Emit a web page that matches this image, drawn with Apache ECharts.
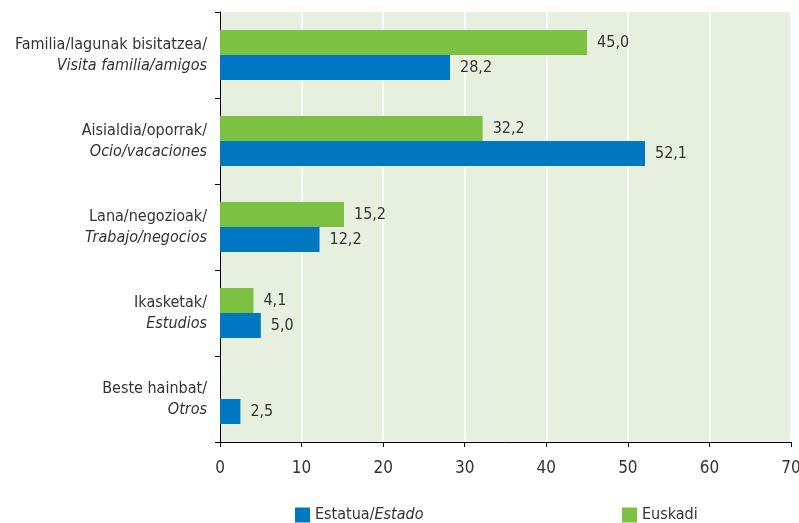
<!DOCTYPE html>
<html><head><meta charset="utf-8">
<script src="https://cdn.jsdelivr.net/npm/echarts@6/dist/echarts.min.js"></script>
<style>html,body{margin:0;padding:0;background:#fff}#c{width:799px;height:523px}</style>
</head><body><div id="c"></div>
<script>
var catEu = ['Familia/lagunak bisitatzea/', 'Aisialdia/oporrak/', 'Lana/negozioak/', 'Ikasketak/', 'Beste hainbat/'];
var catEs = ['Visita familia/amigos', 'Ocio/vacaciones', 'Trabajo/negocios', 'Estudios', 'Otros'];
var estado = [28.2, 52.1, 12.2, 5.0, 2.5];
var euskadi = [45.0, 32.2, 15.2, 4.1, null];
var xTicks = [0, 10, 20, 30, 40, 50, 60, 70];

var FONT = '"Liberation Sans Narrow","DejaVu Sans Condensed",sans-serif';
var TXT = '#333333';
var cats = catEu.map(function (e, i) { return i; });
var chart = echarts.init(document.getElementById('c'));
function fmt(p) { return p.value == null ? '' : p.value.toFixed(1).replace('.', ','); }
chart.setOption({
  animation: false,
  grid: { left: 220, right: 8, top: 12, bottom: 81, show: true, backgroundColor: '#e7f0de', borderWidth: 0,
          containLabel: false, outerBoundsMode: 'none' },
  legend: [
    { data: ['Estatua/Estado'], icon: 'rect', left: 295, top: 507, itemWidth: 15, itemHeight: 15, itemGap: 4, padding: 0,
      formatter: function () { return '{n|Estatua/}{i|Estado}'; },
      textStyle: { rich: { n: { fontFamily: FONT, fontSize: 16, color: TXT }, i: { fontFamily: FONT, fontSize: 16, fontStyle: 'italic', color: TXT } } } },
    { data: ['Euskadi'], icon: 'rect', left: 622, top: 507, itemWidth: 15, itemHeight: 15, padding: 0,
      textStyle: { fontFamily: FONT, fontSize: 16, color: TXT } }
  ],
  xAxis: {
    type: 'value', min: xTicks[0], max: xTicks[xTicks.length - 1], interval: 10,
    axisLine: { show: true, lineStyle: { color: '#000', width: 1 } },
    axisTick: { show: true, length: 5, lineStyle: { color: '#000' } },
    axisLabel: { fontFamily: FONT, fontSize: 17, color: TXT, margin: 18 },
    splitLine: { show: true, lineStyle: { color: '#ffffff', width: 1.5 } }
  },
  yAxis: {
    type: 'category', data: cats, inverse: true,
    axisLine: { show: true, lineStyle: { color: '#000', width: 1 } },
    axisTick: { show: true, length: 5, lineStyle: { color: '#000' } },
    axisLabel: {
      margin: 13, align: 'right',
      formatter: function (v) { var i = +v; return '{n|' + catEu[i] + '}\n{i|' + catEs[i] + '}'; },
      rich: {
        n: { fontFamily: FONT, fontSize: 16, color: TXT, lineHeight: 21, align: 'right' },
        i: { fontFamily: FONT, fontSize: 16, fontStyle: 'italic', color: TXT, lineHeight: 21, align: 'right' }
      }
    }
  },
  series: [
    { name: 'Euskadi', type: 'bar', data: euskadi, barWidth: 25, barGap: '0%', itemStyle: { color: '#7dc142' },
      label: { show: true, position: 'right', distance: 10, formatter: fmt, fontFamily: FONT, fontSize: 16, color: TXT } },
    { name: 'Estatua/Estado', type: 'bar', data: estado, barWidth: 25, barGap: '0%', itemStyle: { color: '#0077c0' },
      label: { show: true, position: 'right', distance: 10, formatter: fmt, fontFamily: FONT, fontSize: 16, color: TXT } }
  ]
});
</script></body></html>
